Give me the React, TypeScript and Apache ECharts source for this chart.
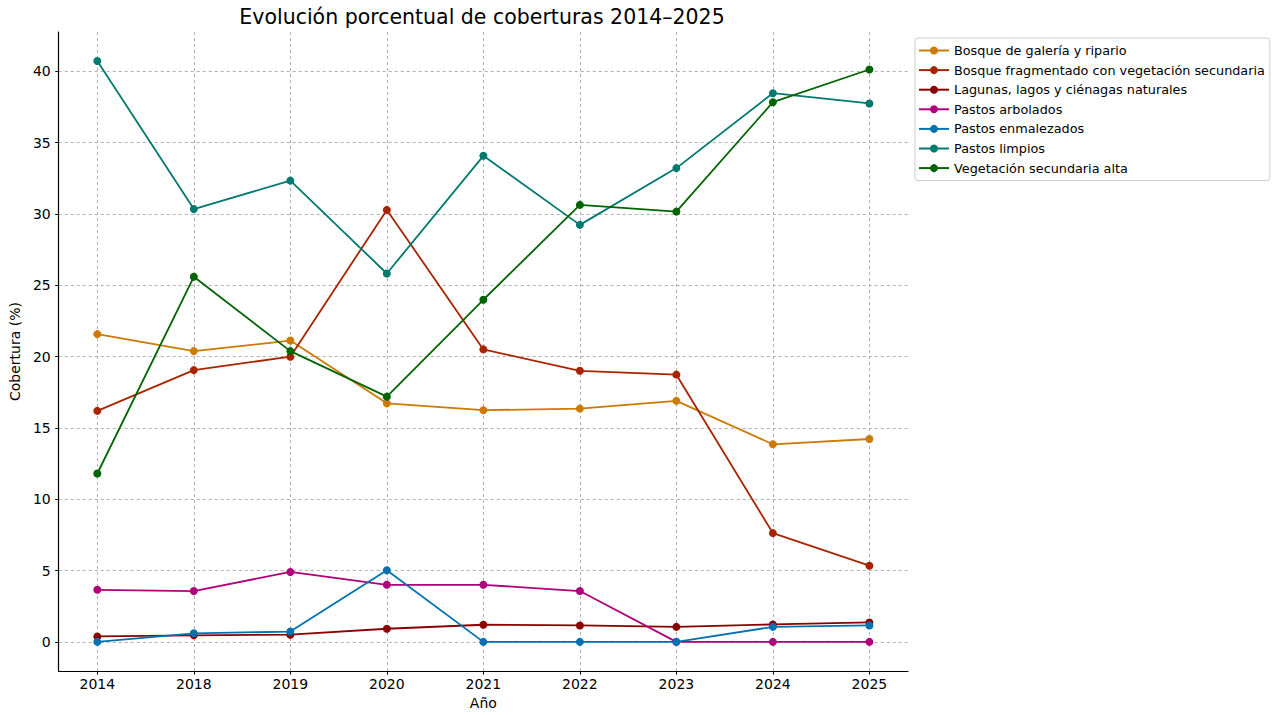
import React, { useEffect, useRef } from "react";
import * as echarts from "echarts";

const years = ["2014", "2018", "2019", "2020", "2021", "2022", "2023", "2024", "2025"];
const yTicks = [0, 5, 10, 15, 20, 25, 30, 35, 40];

const seriesNames = [
  "Bosque de galería y ripario",
  "Bosque fragmentado con vegetación secundaria",
  "Lagunas, lagos y ciénagas naturales",
  "Pastos arbolados",
  "Pastos enmalezados",
  "Pastos limpios",
  "Vegetación secundaria alta",
];

const bosqueGaleria = [21.57, 20.38, 21.12, 16.72, 16.24, 16.35, 16.89, 13.85, 14.22];
const bosqueFragmentado = [16.19, 19.05, 19.99, 30.28, 20.5, 19.0, 18.73, 7.62, 5.34];
const lagunas = [0.38, 0.46, 0.5, 0.92, 1.2, 1.15, 1.05, 1.22, 1.36];
const pastosArbolados = [3.65, 3.56, 4.9, 4.0, 4.0, 3.56, 0, 0, 0];
const pastosEnmalezados = [0, 0.6, 0.72, 5.02, 0, 0, 0, 1.05, 1.15];
const pastosLimpios = [40.72, 30.34, 32.33, 25.82, 34.07, 29.23, 33.21, 38.46, 37.74];
const vegetacionAlta = [11.8, 25.59, 20.38, 17.19, 23.98, 30.63, 30.16, 37.83, 40.12];

const allValues = [
  bosqueGaleria,
  bosqueFragmentado,
  lagunas,
  pastosArbolados,
  pastosEnmalezados,
  pastosLimpios,
  vegetacionAlta,
];

const colors = ["#cc7a00", "#a82400", "#8b0000", "#b0007a", "#0072b2", "#00796e", "#006400"];

const FONT = "DejaVu Sans";

export default function App() {
  const ref = useRef<HTMLDivElement>(null);
  useEffect(() => {
    document.body.style.margin = "0";
    if (!ref.current) return;
    const chart = echarts.init(ref.current, null, { renderer: "svg" });
    const gridLine = { show: true, lineStyle: { color: "#b0b0b0", type: [3, 3], width: 1 } };
    chart.setOption({
      animation: false,
      backgroundColor: "#ffffff",
      textStyle: { fontFamily: FONT },
      title: {
        text: "Evolución porcentual de coberturas 2014–2025",
        left: 482,
        textAlign: "center",
        top: 6,
        padding: 0,
        textStyle: { fontFamily: FONT, fontSize: 20.5, fontWeight: "normal", color: "#000" },
      },
      legend: {
        orient: "vertical",
        left: 915,
        top: 38,
        data: seriesNames,
        itemWidth: 30,
        itemHeight: 10,
        itemGap: 6.6,
        padding: [6, 5, 6, 3],
        borderColor: "#cccccc",
        borderWidth: 1,
        borderRadius: 3,
        backgroundColor: "#ffffff",
        textStyle: { fontFamily: FONT, fontSize: 12.8, color: "#000" },
      },
      grid: { left: 57, top: 32, width: 851, height: 644, containLabel: false },
      xAxis: {
        type: "value",
        min: -0.4,
        max: 8.4,
        name: "Año",
        nameLocation: "middle",
        nameGap: 22,
        nameTextStyle: { fontFamily: FONT, fontSize: 14, color: "#000" },
        axisLine: { show: true, onZero: false, lineStyle: { color: "#000", width: 1.2 } },
        axisTick: { show: true, length: 3.5, customValues: years.map((_, i) => i), lineStyle: { color: "#000" } },
        axisLabel: {
          customValues: years.map((_, i) => i),
          formatter: (v: number) => years[Math.round(v)] ?? "",
          fontFamily: FONT,
          fontSize: 14,
          color: "#000",
          margin: 6,
        },
        splitLine: gridLine,
      },
      yAxis: {
        type: "value",
        min: -2.05,
        max: 42.75,
        name: "Cobertura (%)",
        nameLocation: "middle",
        nameGap: 30,
        nameTextStyle: { fontFamily: FONT, fontSize: 14, color: "#000" },
        axisLine: { show: true, onZero: false, lineStyle: { color: "#000", width: 1.2 } },
        axisTick: { show: true, length: 3.5, customValues: yTicks, lineStyle: { color: "#000" } },
        axisLabel: {
          customValues: yTicks,
          fontFamily: FONT,
          fontSize: 14,
          color: "#000",
          margin: 8,
        },
        splitLine: gridLine,
      },
      series: seriesNames.map((name, si) => ({
        name,
        type: "line",
        data: allValues[si].map((v, i) => [i, v]),
        symbol: "circle",
        symbolSize: 8,
        showSymbol: true,
        lineStyle: { width: 1.8, color: colors[si] },
        itemStyle: { color: colors[si] },
        emphasis: { disabled: true },
      })),
    });
    return () => chart.dispose();
  }, []);
  return <div ref={ref} style={{ width: 1273, height: 715 }} />;
}
